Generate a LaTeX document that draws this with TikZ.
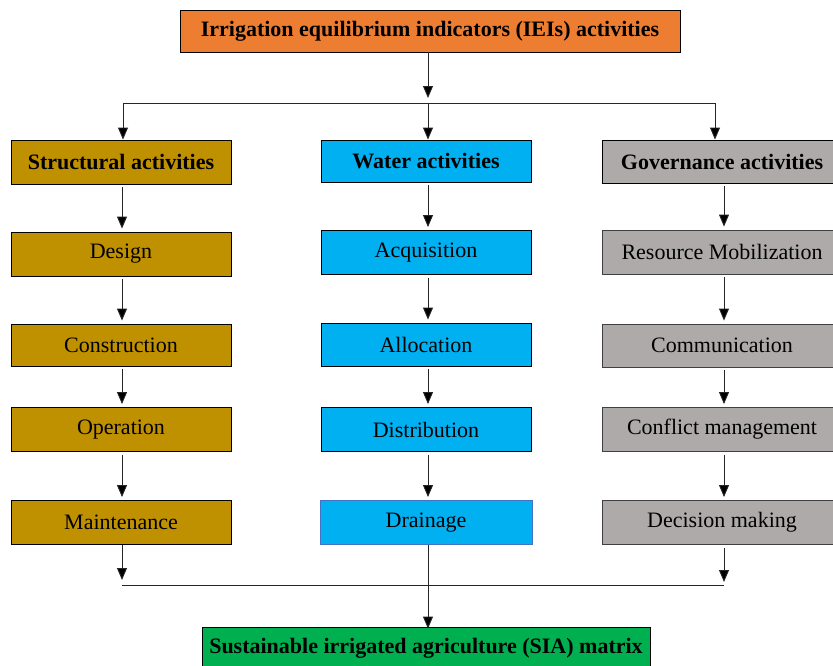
\documentclass[tikz,border=0pt]{standalone}
\usepackage{fontspec}
\setmainfont{Liberation Serif}
\usetikzlibrary{arrows.meta}
\definecolor{cOrange}{HTML}{ED7D31}
\definecolor{cGold}{HTML}{BF9000}
\definecolor{cBlue}{HTML}{00B0F0}
\definecolor{cGray}{HTML}{AEAAAA}
\definecolor{cGreen}{HTML}{00B050}
\definecolor{cBorderBlue}{HTML}{4472C4}
\tikzset{
  box/.style={draw=black, line width=0.9pt, minimum height=44pt, inner sep=0pt,
    font=\fontsize{22}{24}\selectfont, text=black, anchor=center},
  hd/.style={box, font=\fontsize{22}{24}\selectfont\bfseries},
  lbox/.style={box, fill=cGold, minimum width=220pt},
  mbox/.style={box, fill=cBlue, minimum width=210pt},
  rbox/.style={box, fill=cGray, draw=black!75, minimum width=240pt},
  arr/.style={draw=black!85, line width=0.9pt, -{Triangle[length=12pt,width=10pt,fill=black]}},
  ln/.style={draw=black!85, line width=0.9pt},
}
\begin{document}
\begin{tikzpicture}[x=1pt,y=-1pt]
\useasboundingbox (0,0) rectangle (833,665);
% top
\node[hd, fill=cOrange, minimum width=500pt, minimum height=42pt] (top) at (430,31) {Irrigation equilibrium indicators (IEIs) activities};
% left column
\node[lbox, hd] (s1) at (121,162) {Structural activities};
\node[lbox] (s2) at (121,254) {Design};
\node[lbox, minimum height=42pt] (s3) at (121,345) {Construction};
\node[lbox] (s4) at (121,429.5) {Operation};
\node[lbox] (s5) at (121,522.5) {Maintenance};
% middle column
\node[mbox, hd, minimum height=42pt] (w1) at (426,161) {Water activities};
\node[mbox] (w2) at (426,252.5) {Acquisition};
\node[mbox, minimum height=43pt] (w3) at (426,344.5) {Allocation};
\node[mbox] (w4) at (426,429.5) {Distribution};
\node[mbox, draw=cBorderBlue, minimum width=212pt] (w5) at (426,522.5) {Drainage};
% right column
\node[rbox, hd, minimum height=43pt] (g1) at (722,161.5) {Governance activities};
\node[rbox] (g2) at (722,252) {Resource Mobilization};
\node[rbox, minimum height=43pt] (g3) at (722,345.5) {Communication};
\node[rbox] (g4) at (722,429.5) {Conflict management};
\node[rbox] (g5) at (722,522.5) {Decision making};
% bottom
\node[hd, fill=cGreen, minimum width=448pt, minimum height=42pt] (bot) at (426,648) {Sustainable irrigated agriculture (SIA) matrix};

% top distribution
\coordinate (t0) at (428,98);
\coordinate (jl) at (123,103);
\coordinate (jm) at (428,103);
\coordinate (jr) at (715,103);
\draw[arr] (top.south -| t0) -- (t0);
\draw[ln] (jl) -- (jr);
\draw[arr] (jl) -- (jl |- s1.north);
\draw[arr] (jm) -- (jm |- w1.north);
\draw[arr] (jr) -- (jr |- g1.north);

% column arrows
\foreach \a/\b in {s1/s2,s2/s3,s3/s4,s4/s5}{
  \draw[arr] ([xshift=1pt,yshift=-3pt]\a.south) -- ([xshift=1pt,yshift=3pt]\b.north);
}
\foreach \a/\b in {w1/w2,w2/w3,w3/w4,w4/w5}{
  \draw[arr] ([xshift=2pt,yshift=-3pt]\a.south) -- ([xshift=2pt,yshift=3pt]\b.north);
}
\foreach \a/\b in {g1/g2,g2/g3,g3/g4,g4/g5}{
  \draw[arr] ([xshift=2pt,yshift=-3pt]\a.south) -- ([xshift=2pt,yshift=3pt]\b.north);
}

% bottom collection
\coordinate (bl) at (122,580);
\coordinate (br) at (724,582);
\coordinate (hl) at (122,585);
\coordinate (hr) at (724,585);
\draw[arr] ([xshift=1pt]s5.south) -- (bl);
\draw[arr] ([xshift=2pt,yshift=-3pt]g5.south) -- (br);
\draw[ln] (hl) -- (hr);
\draw[arr] ([xshift=2pt]w5.south) -- ([xshift=2pt,yshift=-2pt]bot.north);
\end{tikzpicture}
\end{document}
